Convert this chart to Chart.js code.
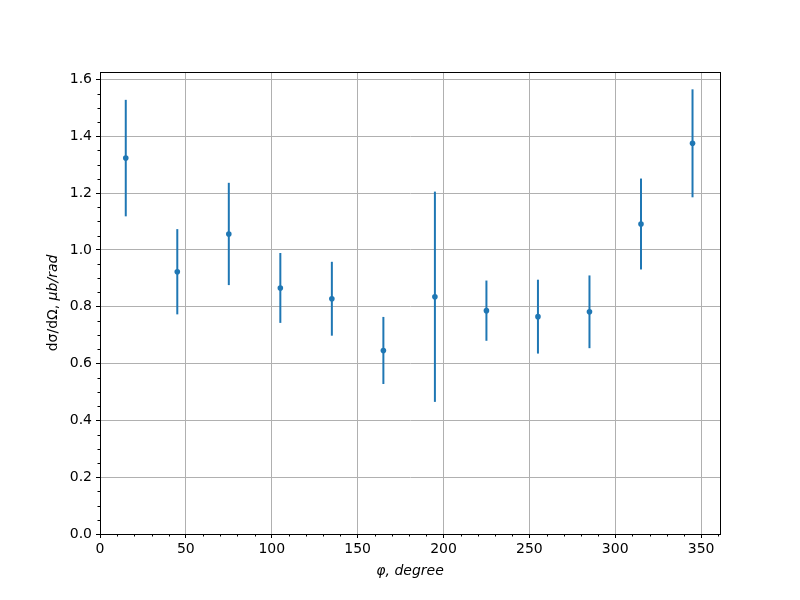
<!DOCTYPE html>
<html>
<head>
<meta charset="utf-8">
<script src="https://cdn.jsdelivr.net/npm/chart.js@4.4.1/dist/chart.umd.min.js"></script>
<style>
  html, body { margin: 0; padding: 0; background: #fff; }
  #wrap { width: 800px; height: 600px; }
</style>
</head>
<body>
<div id="wrap"><canvas id="errChart" width="800" height="600"></canvas></div>
<script>
// data
const phiValues = [15, 45, 75, 105, 135, 165, 195, 225, 255, 285, 315, 345];
const xsecValues = [1.323, 0.923, 1.056, 0.866, 0.828, 0.646, 0.835, 0.786, 0.765, 0.782, 1.091, 1.375];
const xsecErrors = [0.205, 0.150, 0.180, 0.123, 0.130, 0.118, 0.370, 0.106, 0.130, 0.128, 0.160, 0.190];
const xTickStep = 50;
const yTickStep = 0.2;

const blue = "#1f77b4";
const font = "DejaVu Sans";

// vertical error bars, drawn with the chart's own scales
const errorBars = {
  id: "errorBars",
  beforeDatasetsDraw(chart) {
    const ctx = chart.ctx;
    const xs = chart.scales.x, ys = chart.scales.y;
    ctx.save();
    ctx.strokeStyle = blue;
    ctx.lineWidth = 2;
    phiValues.forEach((phi, i) => {
      const px = xs.getPixelForValue(phi);
      ctx.beginPath();
      ctx.moveTo(px, ys.getPixelForValue(xsecValues[i] - xsecErrors[i]));
      ctx.lineTo(px, ys.getPixelForValue(xsecValues[i] + xsecErrors[i]));
      ctx.stroke();
    });
    ctx.restore();
  }
};

// minor ticks, box spines and the y label with mixed styles
const axesExtras = {
  id: "axesExtras",
  afterDraw(chart) {
    const ctx = chart.ctx;
    const a = chart.chartArea;
    const xs = chart.scales.x, ys = chart.scales.y;
    ctx.save();
    ctx.strokeStyle = "#000";
    ctx.lineWidth = 1;
    ctx.beginPath();
    for (let v = 10; v <= xs.max; v += 10) {
      if (v % xTickStep === 0) continue;
      const px = Math.round(xs.getPixelForValue(v)) + 0.5;
      ctx.moveTo(px, a.bottom);
      ctx.lineTo(px, a.bottom + 2.5);
    }
    for (let k = 1; k * 0.05 <= ys.max; k++) {
      if (k % 4 === 0) continue;
      const py = Math.round(ys.getPixelForValue(k * 0.05)) + 0.5;
      ctx.moveTo(a.left, py);
      ctx.lineTo(a.left - 2.5, py);
    }
    ctx.stroke();

    ctx.strokeRect(Math.round(a.left) + 0.5, Math.round(a.top) + 0.5,
      Math.round(a.right - a.left), Math.round(a.bottom - a.top));

    // y axis label: "dσ/dΩ, " upright, "μb/rad" italic
    ctx.translate(53, (a.top + a.bottom) / 2);
    ctx.rotate(-Math.PI / 2);
    ctx.fillStyle = "#000";
    ctx.textBaseline = "middle";
    const partA = "dσ/dΩ, ";
    const partB = "μb/rad";
    ctx.font = "14px '" + font + "'";
    const wA = ctx.measureText(partA).width;
    ctx.font = "italic 14px '" + font + "'";
    const wB = ctx.measureText(partB).width;
    let start = -(wA + wB) / 2;
    ctx.textAlign = "left";
    ctx.font = "14px '" + font + "'";
    ctx.fillText(partA, start, 0);
    ctx.font = "italic 14px '" + font + "'";
    ctx.fillText(partB, start + wA, 0);
    ctx.restore();
  }
};

const ctx1 = document.getElementById("errChart").getContext("2d");
new Chart(ctx1, {
  type: "scatter",
  data: {
    datasets: [
      {
        data: phiValues.map((p, i) => ({ x: p, y: xsecValues[i] })),
        backgroundColor: blue,
        borderColor: blue,
        pointRadius: 2.8,
        pointBorderWidth: 0,
      },
    ],
  },
  options: {
    responsive: false,
    animation: false,
    layout: { padding: { top: 72, right: 80, left: 0, bottom: 0 } },
    plugins: {
      legend: { display: false },
      tooltip: { enabled: false },
    },
    scales: {
      x: {
        type: "linear",
        min: 0,
        max: 361,
        afterFit(scale) { scale.height = 66; },
        border: { display: true, color: "#000", width: 1 },
        grid: { color: "#b0b0b0", lineWidth: 1, tickColor: "#000", tickLength: 4 },
        ticks: {
          stepSize: xTickStep,
          includeBounds: false,
          color: "#000",
          padding: 3,
          font: { family: font, size: 14 },
          callback: (v) => String(v),
        },
        title: {
          display: true,
          text: "φ, degree",
          color: "#000",
          padding: { top: 2, bottom: 20 },
          font: { family: font, size: 14, style: "italic" },
        },
      },
      y: {
        type: "linear",
        min: 0,
        max: 1.626,
        afterFit(scale) { scale.width = 100; },
        border: { display: true, color: "#000", width: 1 },
        grid: { color: "#b0b0b0", lineWidth: 1, tickColor: "#000", tickLength: 4 },
        ticks: {
          stepSize: yTickStep,
          includeBounds: false,
          color: "#000",
          padding: 4,
          font: { family: font, size: 14 },
          callback: (v) => Number(v).toFixed(1),
        },
      },
    },
  },
  plugins: [errorBars, axesExtras],
});
</script>
</body>
</html>
